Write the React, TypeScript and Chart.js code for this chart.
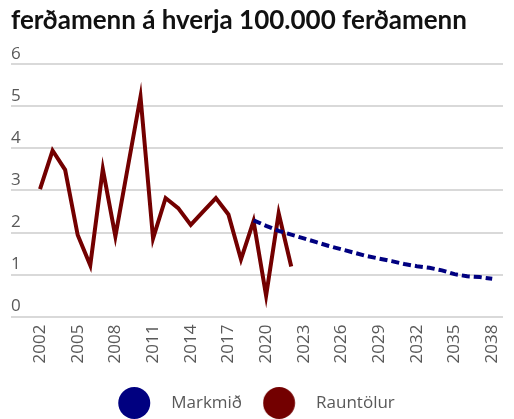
import React, { useEffect, useRef } from "react";
import { Chart, registerables } from "chart.js";

Chart.register(...registerables);

const TITLE = "ferðamenn á hverja 100.000 ferðamenn";

const actualYears = [2002, 2003, 2004, 2005, 2006, 2007, 2008, 2009, 2010, 2011, 2012, 2013, 2014, 2015, 2016, 2017, 2018, 2019, 2020, 2021, 2022];
const actualValues = [3.03, 3.95, 3.49, 1.94, 1.22, 3.51, 1.91, 3.57, 5.23, 1.86, 2.82, 2.58, 2.18, 2.5, 2.82, 2.43, 1.36, 2.27, 0.5, 2.46, 1.19];

const targetYears = [2019, 2020, 2021, 2022, 2023, 2024, 2025, 2026, 2027, 2028, 2029, 2030, 2031, 2032, 2033, 2034, 2035, 2036, 2037, 2038];
const targetValues = [2.29, 2.16, 2.04, 1.95, 1.86, 1.77, 1.68, 1.6, 1.52, 1.44, 1.38, 1.32, 1.25, 1.2, 1.16, 1.1, 1.01, 0.96, 0.94, 0.9];

const xTickYears = [2002, 2005, 2008, 2011, 2014, 2017, 2020, 2023, 2026, 2029, 2032, 2035, 2038];
const yTicks = [0, 1, 2, 3, 4, 5, 6];

const seriesNames = ["Markmið", "Rauntölur"];
const BLUE = "#000080";
const RED = "#730000";
const GREY = "#595959";

const BOX_W = 43.5;
const CIRCLE_C = 15;
const R = 16;

function makeCircle(color: string): HTMLCanvasElement {
  const off = CIRCLE_C - BOX_W / 2; // offset of circle from image centre
  const w = Math.ceil(2 * (Math.abs(off) + R));
  const c = document.createElement("canvas");
  c.width = w;
  c.height = 2 * R;
  const ctx = c.getContext("2d")!;
  ctx.fillStyle = color;
  ctx.beginPath();
  ctx.arc(w / 2 + off, R, R, 0, Math.PI * 2);
  ctx.fill();
  return c;
}

export default function App() {
  const ref = useRef<HTMLCanvasElement>(null);
  useEffect(() => {
    if (!ref.current) return;
    const icons = [makeCircle(BLUE), makeCircle(RED)];
    const chart = new Chart(ref.current, {
      type: "line",
      data: {
        datasets: [
          {
            label: seriesNames[0],
            data: targetYears.map((x, i) => ({ x, y: targetValues[i] })),
            borderColor: BLUE,
            backgroundColor: BLUE,
            borderWidth: 4,
            borderDash: [8, 4],
            borderCapStyle: "butt",
            pointRadius: 0,
            tension: 0,
          },
          {
            label: seriesNames[1],
            data: actualYears.map((x, i) => ({ x, y: actualValues[i] })),
            borderColor: RED,
            backgroundColor: RED,
            borderWidth: 4,
            borderJoinStyle: "miter",
            pointRadius: 0,
            tension: 0,
          },
        ],
      },
      options: {
        animation: false,
        responsive: true,
        maintainAspectRatio: false,
        layout: { padding: { left: 11, right: 11, top: 0, bottom: -2.5 } },
        plugins: {
          tooltip: { enabled: false },
          title: {
            display: true,
            text: TITLE,
            align: "start",
            color: "#111111",
            font: { family: "Lato", size: 26, weight: "bold" },
            padding: { top: 5.4, bottom: 27.7 },
          },
          legend: {
            display: true,
            position: "bottom",
            title: { display: true, text: "", font: { size: 1, lineHeight: 1 }, padding: { top: 8, bottom: 0 } },
            labels: {
              usePointStyle: true,
              pointStyleWidth: BOX_W,
              padding: 22,
              color: GREY,
              font: { family: "Open Sans", size: 17 },
              generateLabels: (ch: any) =>
                ch.data.datasets.map((d: any, i: number) => ({
                  text: d.label,
                  fillStyle: d.borderColor,
                  strokeStyle: d.borderColor,
                  lineWidth: 0,
                  pointStyle: icons[i],
                  hidden: false,
                  datasetIndex: i,
                  fontColor: GREY,
                })),
            },
          },
        },
        scales: {
          x: {
            type: "linear",
            min: 1999.69,
            max: 2038.86,
            afterBuildTicks: (scale: any) => {
              scale.ticks = xTickYears.map((v) => ({ value: v }));
            },
            ticks: {
              autoSkip: false,
              maxRotation: 90,
              minRotation: 90,
              padding: 0,
              color: GREY,
              font: { family: "Open Sans", size: 17 },
              callback: (v: any) => String(v),
            },
            grid: { display: false, drawTicks: true, tickLength: 8 },
            border: { display: false },
          },
          y: {
            min: 0,
            max: 6,
            afterBuildTicks: (scale: any) => {
              scale.ticks = yTicks.map((v) => ({ value: v }));
            },
            ticks: {
              mirror: true,
              padding: 0,
              labelOffset: -10,
              color: GREY,
              font: { family: "Open Sans", size: 17 },
            },
            grid: { color: "#d9d9d9", lineWidth: 2, drawTicks: false },
            border: { display: false },
          },
        },
      },
    });
    return () => chart.destroy();
  }, []);
  return (
    <div style={{ position: "fixed", left: 0, top: 0, width: 514, height: 419 }}>
      <canvas ref={ref} />
    </div>
  );
}
